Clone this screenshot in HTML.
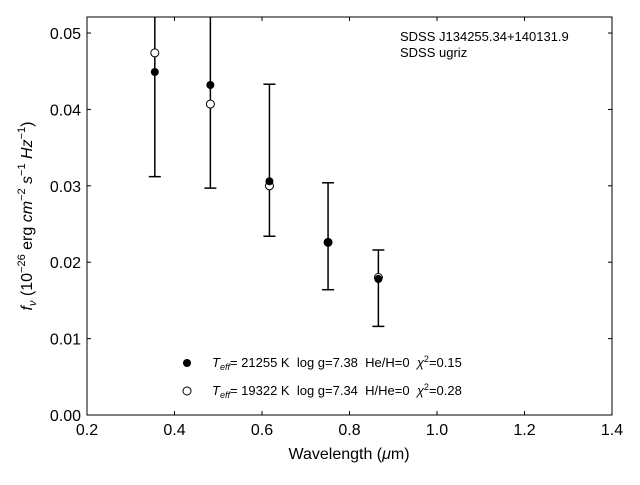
<!DOCTYPE html>
<html><head><meta charset="utf-8"><style>
body{margin:0;background:#fff;}
svg text{font-family:"Liberation Sans","DejaVu Sans",sans-serif;white-space:pre;}
</style></head><body>
<svg id="chart" width="640" height="480" xmlns="http://www.w3.org/2000/svg"></svg>
<script>
const wavelengths=[0.355,0.482,0.617,0.751,0.866];
const fluxObs=[0.0449,0.0432,0.0306,0.0226,0.0178];
const errLow=[0.0312,0.0297,0.0234,0.0164,0.0116];
const errHigh=[0.0590,0.0570,0.0433,0.0304,0.0216];
const fluxModel=[0.0474,0.0407,0.0300,0.0226,0.0180];
const xTicks=[0.2,0.4,0.6,0.8,1.0,1.2,1.4];
const yTicks=[0.00,0.01,0.02,0.03,0.04,0.05];
const L=87,R=612,T=17,B=415,xMin=0.2,xMax=1.4,yMin=0,yMax=0.0521;
const sx=v=>L+(v-xMin)/(xMax-xMin)*(R-L);
const sy=v=>B-(v-yMin)/(yMax-yMin)*(B-T);
const svg=document.getElementById('chart');
const NS='http://www.w3.org/2000/svg';
function mk(tag,attrs,parent){const e=document.createElementNS(NS,tag);for(const k in attrs)e.setAttribute(k,attrs[k]);(parent||svg).appendChild(e);return e;}
const clip=mk('clipPath',{id:'pc'});mk('rect',{x:L,y:T,width:R-L,height:B-T},clip);
xTicks.forEach(t=>{const x=sx(t);
const l1=mk('line',{x1:x,x2:x,y1:B,y2:B-4,stroke:'#000'});


mk('line',{x1:x,x2:x,y1:T,y2:T+4,stroke:'#000'});
const tx=mk('text',{x:x,y:B+20,'text-anchor':'middle','font-size':16});tx.textContent=t.toFixed(1);

});
yTicks.forEach(t=>{const y=sy(t);
const l1=mk('line',{x1:L,x2:L+4,y1:y,y2:y,stroke:'#000'});


mk('line',{x1:R,x2:R-4,y1:y,y2:y,stroke:'#000'});
const tx=mk('text',{x:L-6,y:y+6,'text-anchor':'end','font-size':16});tx.textContent=t.toFixed(2);

});
const g=mk('g',{'clip-path':'url(#pc)'});
wavelengths.forEach((w,i)=>{const x=sx(w),lo=sy(errLow[i]),hi=sy(errHigh[i]);
const e=mk('line',{x1:x,x2:x,y1:lo,y2:hi,stroke:'#000','stroke-width':1.5},g);


mk('line',{x1:x-6,x2:x+6,y1:lo,y2:lo,stroke:'#000','stroke-width':1.5},g);
mk('line',{x1:x-6,x2:x+6,y1:hi,y2:hi,stroke:'#000','stroke-width':1.5},g);});
wavelengths.forEach((w,i)=>{const c=mk('circle',{cx:sx(w),cy:sy(fluxModel[i]),r:4,fill:'#fff',stroke:'#000'},g);

});
wavelengths.forEach((w,i)=>{const c=mk('circle',{cx:sx(w),cy:sy(fluxObs[i]),r:4,fill:'#000'},g);

});
</script>
<svg style="position:absolute;left:0;top:0" width="640" height="480" xmlns="http://www.w3.org/2000/svg">
<rect x="87" y="17" width="525" height="398" fill="none" stroke="#000"/>
<text x="400" y="41" font-size="13">SDSS J134255.34+140131.9</text>
<text x="400" y="57" font-size="13">SDSS ugriz</text>
<g font-size="13">
<circle cx="187" cy="363" r="4" fill="#000"/>
<text x="212" y="367" xml:space="preserve"><tspan font-style="italic">T</tspan><tspan font-style="italic" font-size="9" dy="3">eff</tspan><tspan dy="-3">= 21255 K  log g=7.38  He/H=0  </tspan><tspan font-style="italic">χ</tspan><tspan font-size="9" dy="-5">2</tspan><tspan dy="5">=0.15</tspan></text>
<circle cx="187" cy="391" r="4" fill="#fff" stroke="#000"/>
<text x="212" y="395" xml:space="preserve"><tspan font-style="italic">T</tspan><tspan font-style="italic" font-size="9" dy="3">eff</tspan><tspan dy="-3">= 19322 K  log g=7.34  H/He=0  </tspan><tspan font-style="italic">χ</tspan><tspan font-size="9" dy="-5">2</tspan><tspan dy="5">=0.28</tspan></text>
</g>
<text x="349" y="459" text-anchor="middle" font-size="16">Wavelength (<tspan font-style="italic">μ</tspan>m)</text>
<text transform="translate(32,216) rotate(-90)" text-anchor="middle" font-size="16"><tspan font-style="italic">f</tspan><tspan font-style="italic" font-size="11" dy="4">ν</tspan><tspan dy="-4"> (10</tspan><tspan font-size="11" dy="-7">−26</tspan><tspan dy="7"> erg </tspan><tspan font-style="italic">cm</tspan><tspan font-size="11" dy="-7">−2</tspan><tspan dy="7"> </tspan><tspan font-style="italic">s</tspan><tspan font-size="11" dy="-7">−1</tspan><tspan dy="7"> </tspan><tspan font-style="italic">Hz</tspan><tspan font-size="11" dy="-7">−1</tspan><tspan dy="7">)</tspan></text>
</svg>
</body></html>
